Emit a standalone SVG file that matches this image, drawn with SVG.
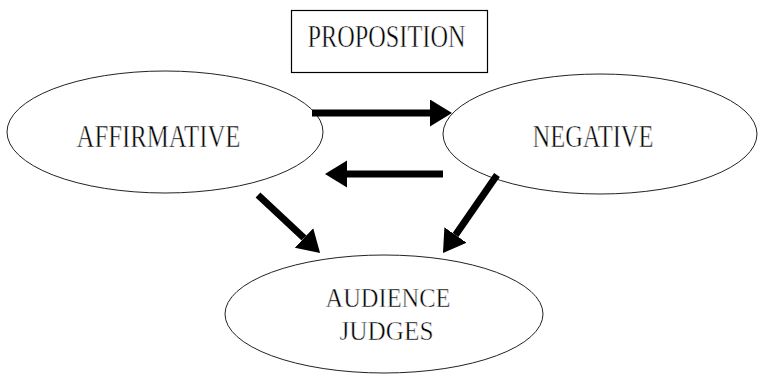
<svg xmlns="http://www.w3.org/2000/svg" width="758" height="374" viewBox="0 0 758 374">
<style>
.node ellipse{fill:#fff;stroke:#222;stroke-width:1}
.node rect{fill:#fff;stroke:#000;stroke-width:1.2}
.lbl{font-family:"Liberation Serif","Times New Roman",serif;font-size:31px;fill:#000;text-anchor:middle;stroke:#fff;stroke-width:0.5}
.sm{font-size:28px}
.arr{stroke:#000;stroke-width:7;fill:none;marker-end:url(#head)}
</style>
<defs>
<marker id="head" markerUnits="userSpaceOnUse" markerWidth="24" markerHeight="28" refX="0" refY="13.5" orient="auto" viewBox="0 0 24 28">
<path d="M0,0 L22,13.5 L0,27 Z" fill="#000"/>
</marker>
</defs>
<rect width="758" height="374" fill="#fff"/>
<g id="proposition" class="node">
<rect x="291.5" y="10.5" width="196" height="62"/>
<text class="lbl" x="386.5" y="47" textLength="158" lengthAdjust="spacingAndGlyphs">PROPOSITION</text>
</g>
<g id="affirmative" class="node">
<ellipse cx="165" cy="132" rx="158" ry="61"/>
<text class="lbl" x="158.5" y="147" textLength="164" lengthAdjust="spacingAndGlyphs">AFFIRMATIVE</text>
</g>
<g id="negative" class="node">
<ellipse cx="600" cy="134" rx="157" ry="60"/>
<text class="lbl" x="593" y="147" textLength="121" lengthAdjust="spacingAndGlyphs">NEGATIVE</text>
</g>
<g id="audience" class="node">
<ellipse cx="384" cy="314" rx="159" ry="59"/>
<text class="lbl sm" x="388" y="307" textLength="125" lengthAdjust="spacingAndGlyphs">AUDIENCE</text>
<text class="lbl sm" x="386.5" y="340" textLength="94" lengthAdjust="spacingAndGlyphs">JUDGES</text>
</g>
<g id="connectors">
<line class="arr" x1="312" y1="113" x2="430" y2="113"/>
<line class="arr" x1="443" y1="174" x2="347" y2="174"/>
<line class="arr" x1="258" y1="195" x2="304" y2="238"/>
<line class="arr" x1="497" y1="175" x2="455.5" y2="235"/>
</g>
</svg>
